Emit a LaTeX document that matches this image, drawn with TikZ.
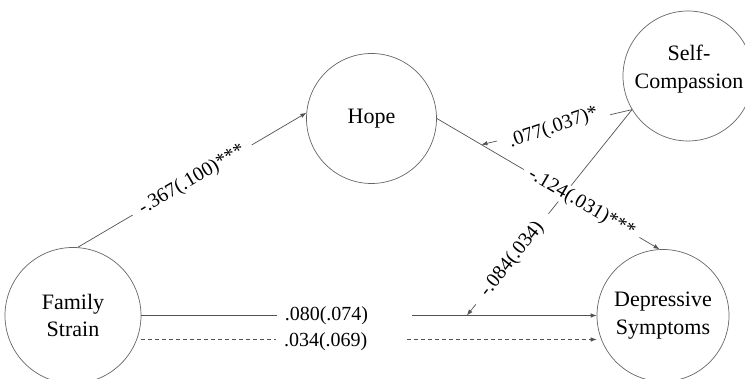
\documentclass[tikz,border=0pt]{standalone}
\usepackage{fontspec}
\setmainfont{Liberation Serif}
\usetikzlibrary{arrows.meta}
\begin{document}
\begin{tikzpicture}[x=1pt,y=1pt,
  latent/.style={circle, draw=black!60, line width=0.7pt, minimum size=#1,
    inner sep=0pt, align=center, font=\fontsize{22}{27.5}\selectfont},
  vartext/.style={align=center, inner sep=0pt, font=\fontsize{22}{27.5}\selectfont},
  effect/.style={draw=black!68, line width=0.7pt, -{Latex[length=6pt,width=4.5pt]}},
  coef/.style={fill=white, font=\fontsize{20}{24}\selectfont, inner ysep=1pt},
]
\useasboundingbox (0,0) rectangle (745,379);

% variables
\node[latent=136pt] (fs)   at (73,63.5)    {Family\\Strain};
\node[latent=130pt] (hope) at (371.5,260.5) {Hope};
\node[latent=130pt] (sc)   at (688,303)    {};
\node[vartext]      (sct)  at (689,310)    {Self-\\Compassion};
\node[latent=132pt] (dep)  at (663,63.5)   {Depressive\\Symptoms};

% points on the moderated paths
\path (hope.east) -- coordinate[pos=0.2] (m1) (dep.93);
\path (fs.east) -- coordinate[pos=0.715] (m2) (dep.west);

% moderation by self-compassion
\draw[effect] (sc.211) -- node[coef, pos=0.52, rotate=19, inner xsep=11pt] {.077(.037)*} (m1);
\draw[effect] (sc.211) -- node[coef, sloped, pos=0.726, inner xsep=13pt] {-.084(.034)} (m2);

% mediation through hope
\draw[effect] (fs.86) -- node[coef, sloped, pos=0.5, inner xsep=9pt] {-.367(.100)***} (hope.175);
\draw[effect] (hope.east) -- node[coef, sloped, pos=0.65, inner xsep=7pt] {-.124(.031)***} (dep.93);

% direct effects (solid: with mediator, dashed: total)
\draw[effect] (fs.east) -- node[coef, pos=0.446, inner sep=0pt]
  {\hspace*{8pt}.080(.074)\hspace*{44pt}} (dep.west);
\draw[effect, dash pattern=on 4pt off 3pt] ([yshift=-24pt]fs.east) --
  node[coef, pos=0.44, inner sep=0pt, yshift=-2pt] {\hspace*{8pt}.034(.069)\hspace*{40pt}}
  ([yshift=-24pt]dep.west);
\end{tikzpicture}
\end{document}
